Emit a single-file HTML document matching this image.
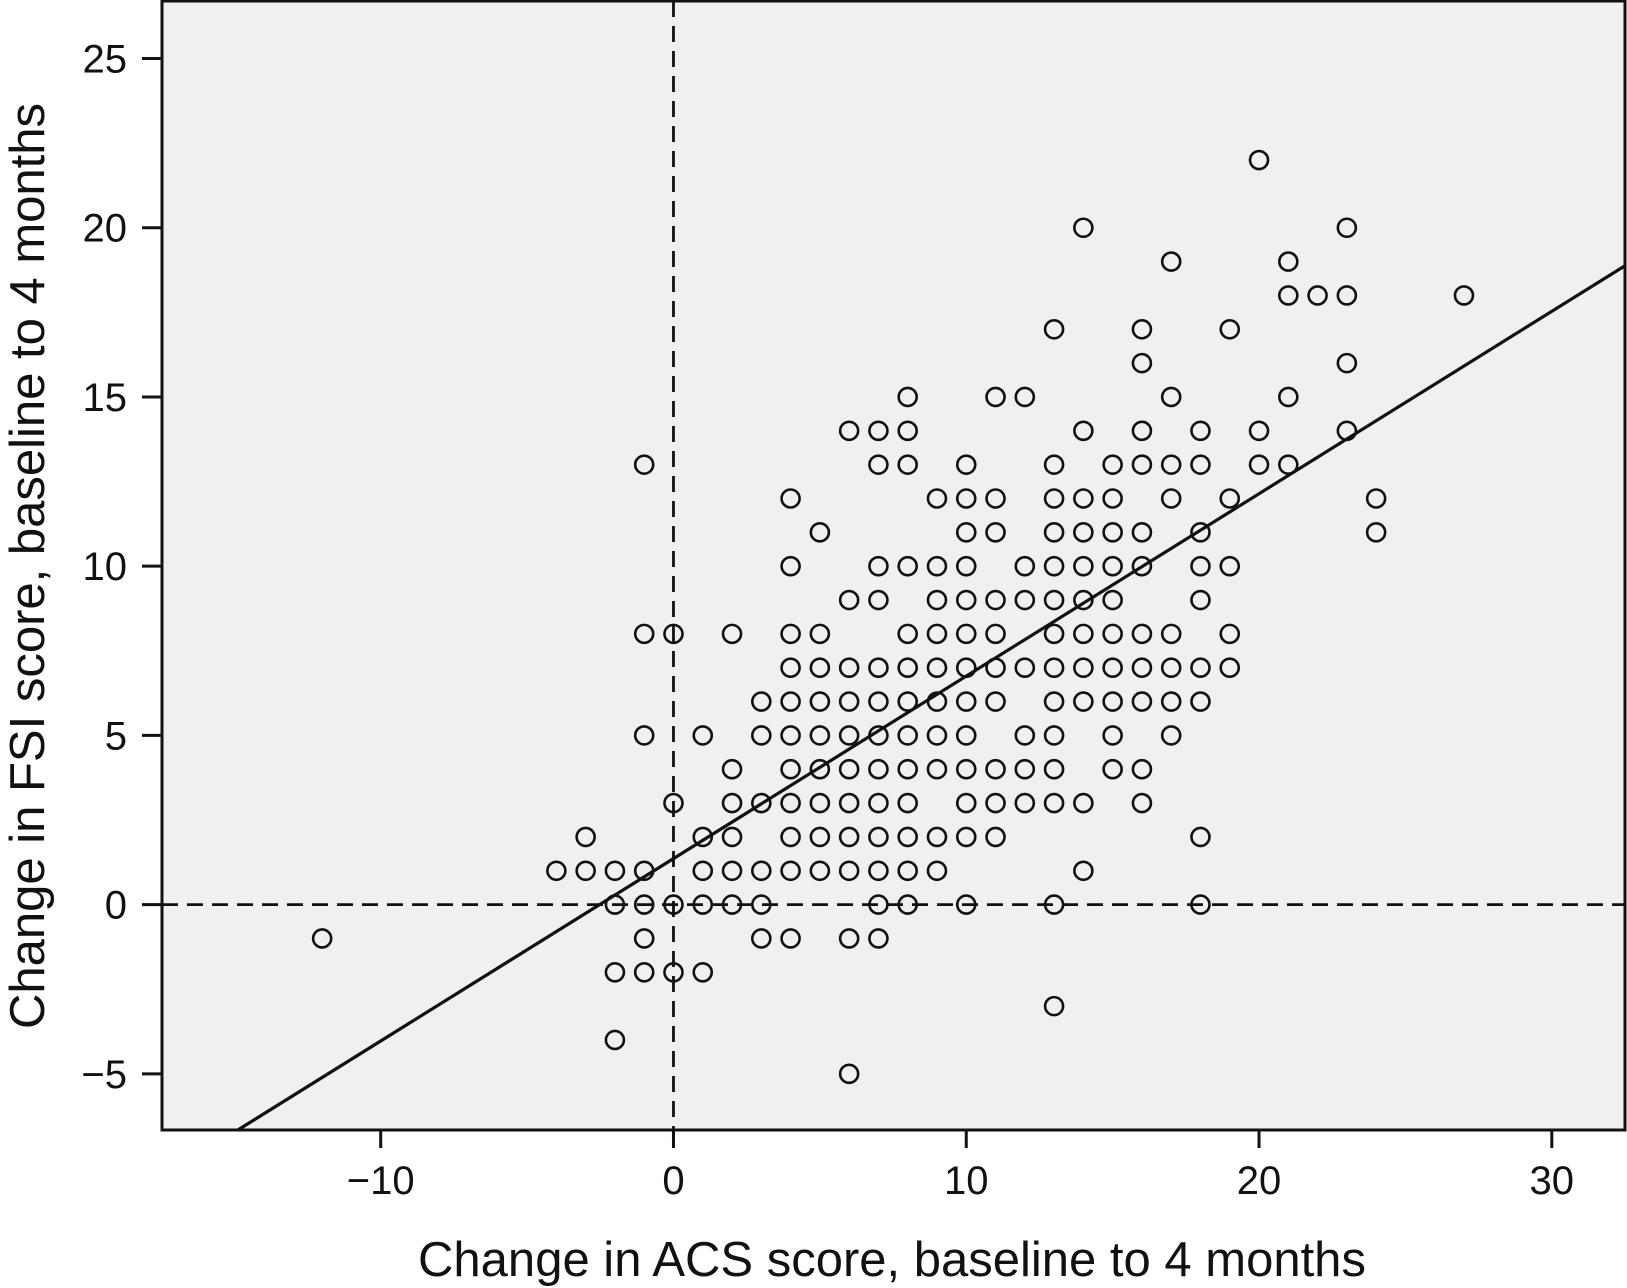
<!DOCTYPE html>
<html><head><meta charset="utf-8"><style>
html,body{margin:0;padding:0;background:#fff;}
svg{display:block;font-family:"Liberation Sans",Arial,sans-serif;}
</style></head><body>
<svg id="chart" width="1627" height="1288" viewBox="0 0 1627 1288" xmlns="http://www.w3.org/2000/svg">
<rect x="162" y="1" width="1463" height="1129" fill="#f0f0f0"/>
<g id="grid"></g>
<g id="points"></g>
<g id="axes"></g>
<rect x="162" y="1" width="1463" height="1129" fill="none" stroke="#111" stroke-width="3"/>
<text x="892" y="1276" text-anchor="middle" font-size="49" fill="#111">Change in ACS score, baseline to 4 months</text>
<text transform="translate(44,566) rotate(-90)" text-anchor="middle" font-size="49" fill="#111">Change in FSI score, baseline to 4 months</text>
</svg>
<script>
const xTicks=[-10,0,10,20,30];
const yTicks=[-5,0,5,10,15,20,25];
const xTickLabels=["\u221210","0","10","20","30"];
const yTickLabels=["\u22125","0","5","10","15","20","25"];
const columnsX=[-12,-4,-3,-2,-1,0,1,2,3,4,5,6,7,8,9,10,11,12,13,14,15,16,17,18,19,20,21,22,23,24,27];
const columnsY=[
[-1],[1],[2,1],[1,0,-2,-4],[13,8,5,1,0,-1,-2],[8,3,0,-2],[5,2,1,0,-2],[8,4,3,2,1,0],[6,5,3,1,0,-1],
[12,10,8,7,6,5,4,3,2,1,-1],[11,8,7,6,5,4,3,2,1],[14,9,7,6,5,4,3,2,1,-1,-5],
[14,13,10,9,7,6,5,4,3,2,1,0,-1],[15,14,13,10,8,7,6,5,4,3,2,1,0],[12,10,9,8,7,6,5,4,2,1],
[13,12,11,10,9,8,7,6,5,4,3,2,0],[15,12,11,9,8,7,6,4,3,2],[15,10,9,7,5,4,3],
[17,13,12,11,10,9,8,7,6,5,4,3,0,-3],[20,14,12,11,10,9,8,7,6,3,1],[13,12,11,10,9,8,7,6,5,4],
[17,16,14,13,11,10,8,7,6,4,3],[19,15,13,12,8,7,6,5],[14,13,11,10,9,7,6,2,0],[17,12,10,8,7],
[22,14,13],[19,18,15,13],[18],[20,18,16,14],[12,11],[18]];
const fitSlope=0.539, fitIntercept=1.36;
const xMin=-17.47,xMax=32.5,yMin=-6.66,yMax=26.7;
const L=162,R=1625,T=1,B=1130;
const sx=v=>L+(v-xMin)/(xMax-xMin)*(R-L);
const sy=v=>B-(v-yMin)/(yMax-yMin)*(B-T);
const NS="http://www.w3.org/2000/svg";
function mk(tag,parent,attrs){const e=document.createElementNS(NS,tag);for(const k in attrs)e.setAttribute(k,attrs[k]);parent.appendChild(e);return e;}
const grid=document.getElementById('grid'),pts=document.getElementById('points'),axes=document.getElementById('axes');
let v=mk('line',grid,{x1:sx(0),x2:sx(0),y1:T,y2:B,stroke:'#111','stroke-width':2.8,'stroke-dasharray':'16 9'});


let h=mk('line',grid,{x1:L,x2:R,y1:sy(0),y2:sy(0),stroke:'#111','stroke-width':2.8,'stroke-dasharray':'16 9'});


columnsX.forEach((x,i)=>{columnsY[i].forEach(y=>{
 const c=mk('circle',pts,{cx:sx(x),cy:sy(y),r:9,fill:'none',stroke:'#111','stroke-width':2.6});
 
 
});});
const fx1=xMin,fx2=xMax;
let fy1=fitSlope*fx1+fitIntercept;let x1=fx1;
if(fy1<yMin){x1=(yMin-fitIntercept)/fitSlope;fy1=yMin;}
const fl=mk('line',pts,{x1:sx(x1),y1:sy(fy1),x2:sx(fx2),y2:sy(fitSlope*fx2+fitIntercept),stroke:'#111','stroke-width':3.2});


xTicks.forEach((t,i)=>{
 const tk=mk('line',axes,{x1:sx(t),x2:sx(t),y1:B,y2:B+18,stroke:'#111','stroke-width':3});
 
 
 const tx=mk('text',axes,{x:sx(t),y:1194,'text-anchor':'middle','font-size':40,fill:'#111'});
 tx.textContent=xTickLabels[i];
 
 
});
yTicks.forEach((t,i)=>{
 const tk=mk('line',axes,{x1:L-20,x2:L,y1:sy(t),y2:sy(t),stroke:'#111','stroke-width':3});
 
 
 const tx=mk('text',axes,{x:127,y:sy(t)+14,'text-anchor':'end','font-size':40,fill:'#111'});
 tx.textContent=yTickLabels[i];
 
 
});
</script>
</body></html>
